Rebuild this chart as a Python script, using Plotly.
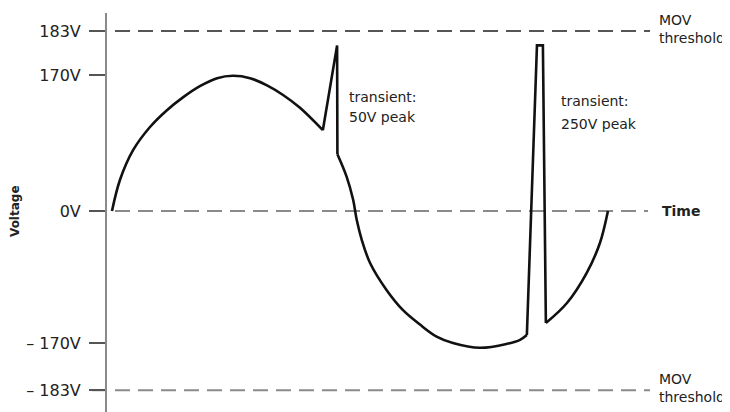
import plotly.graph_objects as go

# schematic waveform (time in ms, level in drawing units)
arc1_t = [0.00, 0.27, 0.71, 1.28, 1.85, 2.39, 2.96, 3.54, 4.07, 4.65, 5.22, 5.76, 6.33, 7.10]
arc1_v = [0, 39, 76, 105, 126, 142, 156, 166, 169, 166, 157, 145, 129, 101]
spike1_t = [7.10, 7.58, 7.59]
spike1_v = [101, 207, 71]
arc2_t = [7.59, 7.90, 8.12, 8.24, 8.41, 8.69, 9.25, 9.80, 10.37, 10.93, 11.48, 12.39, 13.30, 13.74, 13.97]
arc2_v = [71, 43, 14, -11, -36, -65, -99, -124, -142, -157, -165, -171, -166, -161, -155]
spike2_t = [13.97, 14.31, 14.51, 14.61]
spike2_v = [-155, 207, 207, -140]
arc3_t = [14.61, 15.32, 15.99, 16.43, 16.70]
arc3_v = [-140, -115, -77, -40, 0]

tick_vals = [225, 170, 0, -165, -224]
tick_text = ["183V", "170V", "0V", "\u2013 170V", "\u2013 183V"]
threshold_hi = 225
threshold_lo = -224

X_RANGE = [-0.168, 20.81]
Y_RANGE = [-251.25, 247.5]
# page body has an 8px margin, so the figure itself starts at (8, 8)
OFF = 8
PLOT_L, PLOT_W = 107, 623

font = "DejaVu Sans"
txt = "#222222"


def px_to_paper(px):
    return (px - PLOT_L) / PLOT_W


fig = go.Figure()
wave = dict(color="#111111", width=2.6)
for xs, ys, shape in [(arc1_t, arc1_v, "spline"), (spike1_t, spike1_v, "linear"),
                      (arc2_t, arc2_v, "spline"), (spike2_t, spike2_v, "linear"),
                      (arc3_t, arc3_v, "spline")]:
    fig.add_trace(go.Scatter(x=xs, y=ys, mode="lines", line=dict(shape=shape, **wave),
                             hoverinfo="skip"))

# dashed reference lines
line_start = px_to_paper(92)
for yv, col, end in [(threshold_hi, "#555555", 650), (0, "#8a8a8a", 648), (threshold_lo, "#8a8a8a", 650)]:
    fig.add_shape(type="line", xref="paper", yref="y", x0=line_start, x1=px_to_paper(end),
                  y0=yv, y1=yv, line=dict(color=col, width=2, dash="15px,8px"), layer="below")

notes = [
    ("transient:", 7.91, 142.5, False),
    ("50V peak", 7.91, 117.5, False),
    ("transient:", 15.05, 137.5, False),
    ("250V peak", 15.05, 108.5, False),
    ("MOV", 18.35, 239, False),
    ("threshold", 18.35, 216, False),
    ("MOV", 18.35, -210, False),
    ("threshold", 18.35, -232.5, False),
    ("Time", 18.45, 0, True),
]
for text, x, y, bold in notes:
    fig.add_annotation(x=x, y=y, xref="x", yref="y", text=f"<b>{text}</b>" if bold else text,
                       showarrow=False, xanchor="left", yanchor="middle",
                       font=dict(family=font, size=14, color=txt))

fig.add_annotation(x=px_to_paper(15), y=0, xref="paper", yref="y", text="<b>Voltage</b>",
                   textangle=-90, showarrow=False, xanchor="center", yanchor="middle",
                   font=dict(family=font, size=12, color=txt))

fig.update_layout(
    width=730 - OFF, height=412 - OFF,
    margin=dict(l=PLOT_L - OFF, r=0, t=13 - OFF, b=0),
    paper_bgcolor="white", plot_bgcolor="white",
    showlegend=False,
    xaxis=dict(range=X_RANGE, visible=False, fixedrange=True),
    yaxis=dict(range=Y_RANGE, showgrid=False, zeroline=False, showline=True,
               linecolor="#8a8a8a", linewidth=2, ticks="outside", ticklen=16,
               tickwidth=2, tickcolor="#555555", tickvals=tick_vals, ticktext=tick_text,
               ticklabelstandoff=5, tickfont=dict(family=font, size=16, color=txt),
               fixedrange=True),
)

fig.write_html("out.html")
